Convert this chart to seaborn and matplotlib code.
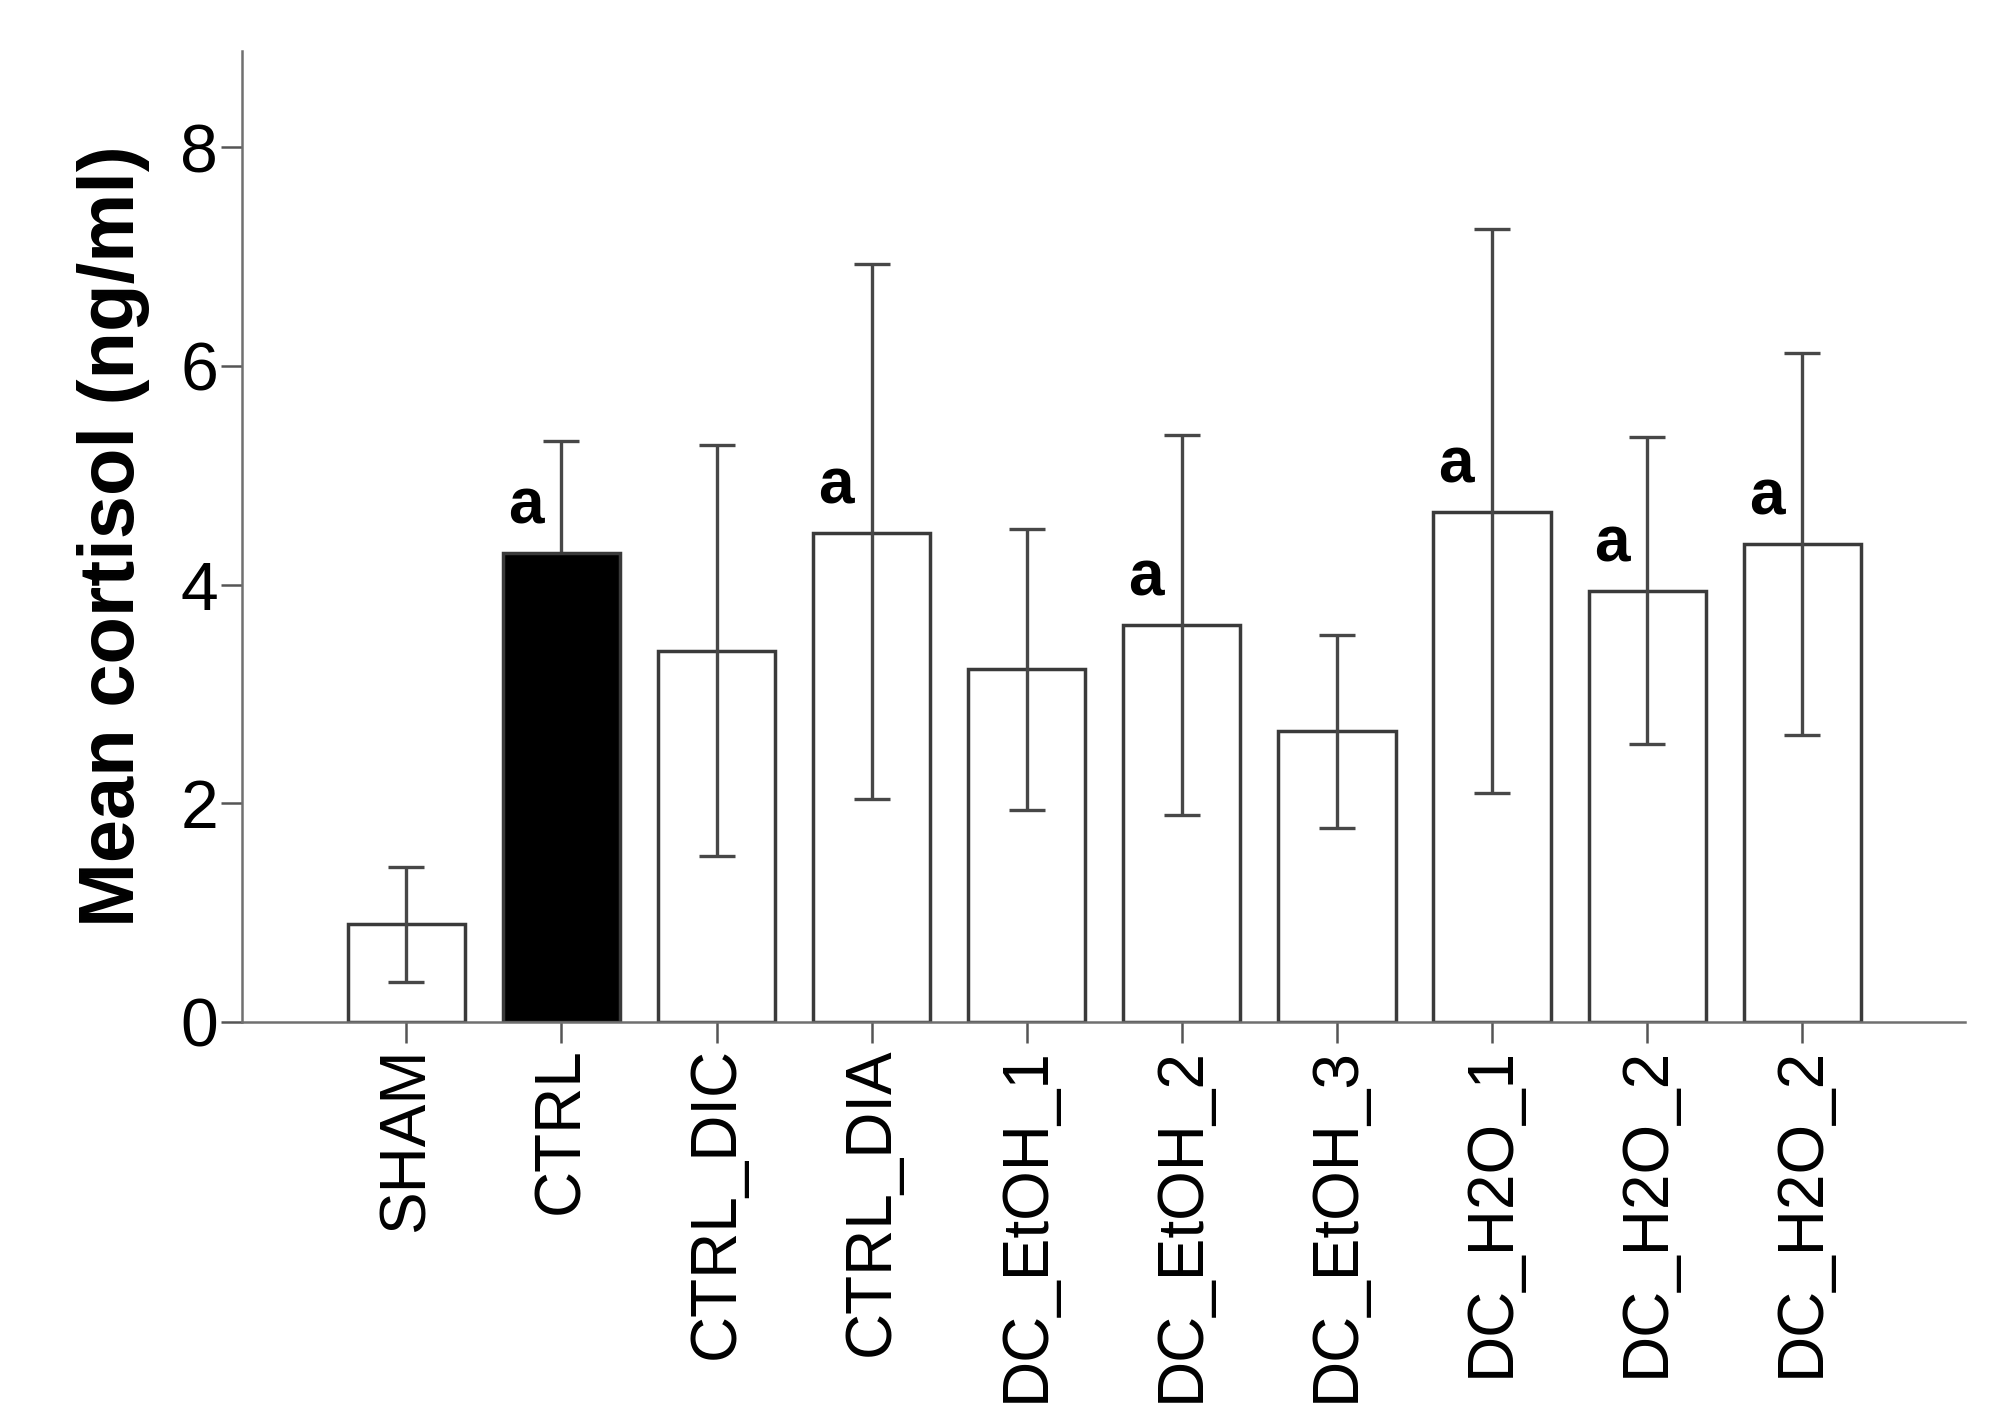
import matplotlib
matplotlib.use("Agg")
import matplotlib.pyplot as plt
import seaborn as sns
import numpy as np
import pandas as pd

groups = ["SHAM", "CTRL", "CTRL_DIC", "CTRL_DIA", "DC_EtOH_1", "DC_EtOH_2",
          "DC_EtOH_3", "DC_H2O_1", "DC_H2O_2", "DC_H2O_2"]
means = [0.90, 4.29, 3.39, 4.47, 3.23, 3.63, 2.66, 4.66, 3.94, 4.37]
ci_low = [0.37, 3.27, 1.52, 2.04, 1.94, 1.89, 1.77, 2.09, 2.54, 2.62]
ci_high = [1.42, 5.31, 5.28, 6.93, 4.51, 5.37, 3.54, 7.25, 5.35, 6.12]
sig_labels = ["", "a", "", "a", "", "a", "", "a", "a", "a"]
fill_colors = ["white", "black", "white", "white", "white", "white",
               "white", "white", "white", "white"]

sns.set_theme(style="ticks")
plt.rcParams["font.family"] = ["Liberation Sans", "DejaVu Sans"]

keys = [f"g{i}" for i in range(len(groups))]
df = pd.DataFrame({"key": keys, "mean": means})

fig = plt.figure(figsize=(19.93, 14.20), dpi=100)
ax = fig.add_axes([0.1214, 0.2803, 0.8646, 0.6838])

edge = "#3a3a3a"
sns.barplot(data=df, x="key", y="mean", hue="key", order=keys, hue_order=keys,
            palette=fill_colors, dodge=False, legend=False, errorbar=None,
            width=0.756, edgecolor=edge, linewidth=2.5, ax=ax)

pos = np.arange(len(groups))
for i in range(len(groups)):
    z = 0.5 if fill_colors[i] == "black" else 3
    ax.errorbar(pos[i], means[i],
                yerr=[[means[i] - ci_low[i]], [ci_high[i] - means[i]]],
                fmt="none", ecolor="#474747", elinewidth=2.4, capsize=13,
                capthick=2.4, zorder=z)

for i, s in enumerate(sig_labels):
    if s:
        ax.text(i - 0.23, means[i] + 0.27, s, ha="center", va="baseline",
                fontsize=46, fontweight="bold", color="black", zorder=4)

ax.set_xlim(-1.06, 10.05)
ax.set_ylim(0, 8.88)
ax.set_yticks([0, 2, 4, 6, 8])
ax.set_yticklabels(["0", "2", "4", "6", "8"])
ax.set_xticks(pos)
ax.set_xticklabels(groups, rotation=90)
ax.set_xlabel("")
ax.set_ylabel("Mean cortisol (ng/ml)", fontsize=56, fontweight="bold",
              labelpad=22, color="black")

for side in ["top", "right"]:
    ax.spines[side].set_visible(False)
for side in ["left", "bottom"]:
    ax.spines[side].set_color("#707070")
    ax.spines[side].set_linewidth(1.8)

ax.tick_params(axis="y", length=15, width=1.8, color="#555555", labelsize=49,
               pad=2, labelcolor="black")
ax.tick_params(axis="x", length=15, width=1.8, color="#555555", labelsize=46,
               pad=3, labelcolor="black")

fig.savefig("out.png", dpi=100, facecolor="white")
